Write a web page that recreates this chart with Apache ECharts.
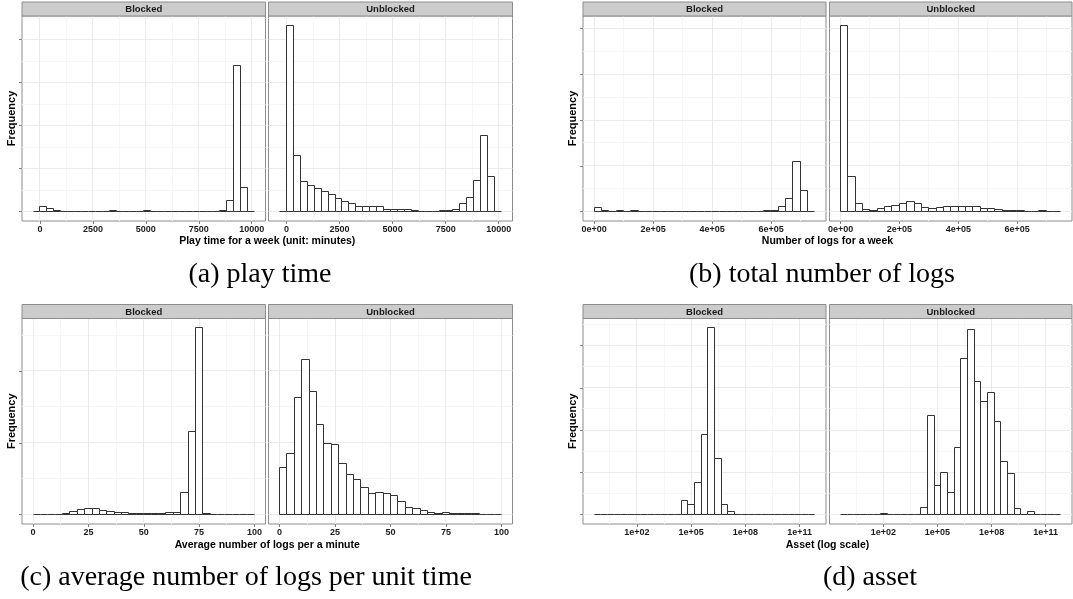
<!DOCTYPE html>
<html><head><meta charset="utf-8">
<script src="https://cdn.jsdelivr.net/npm/echarts@6/dist/echarts.min.js"></script>
<style>html,body{margin:0;padding:0;background:#fff}#c{width:1073px;height:599px}</style>
</head><body><div id="c"></div>
<script>
// ---------------- DATA ----------------
const facetNames = ['Blocked', 'Unblocked'];

// (a) play time for a week (minutes): bins of equal width, first/last bins are empty padding
const playBinStart = -326.67, playBinWidth = 326.67;
const playBlocked   = [0, 12, 8.5, 3, 0, 0, 1.5, 0, 0, 0, 0, 3, 0, 1.5, 0, 0, 3, 0, 0, 0, 0, 0, 0, 0, 0, 0, 1.5, 3, 26, 340, 57, 0];
const playUnblocked = [0, 433, 130, 70, 60, 53, 46, 40, 30, 24, 18, 12, 11, 11, 11, 4.6, 6, 6, 4.6, 3, 1.5, 1.5, 1.5, 3, 3, 6, 18.5, 34, 72, 177, 82, 0];
const playTicks = [0, 2500, 5000, 7500, 10000];
const playTickLabels = ['0', '2500', '5000', '7500', '10000'];
const playMinor = [1250, 3750, 6250, 8750];

// (b) number of logs for a week
const logsBinStart = 0, logsBinWidth = 24953;
const logsBlocked   = [10, 2, 0, 3, 0, 1.5, 0, 0, 0, 1, 1, 1, 0, 1, 1, 0, 0, 0, 0, 0, 0, 0, 1, 1.5, 3.6, 12, 28, 110, 47, 0];
const logsUnblocked = [407, 77, 17, 4.4, 3.6, 8, 11, 13, 17, 22, 17, 10, 8, 10, 11, 12, 12, 12, 11, 8, 6, 4.4, 3.6, 3, 2, 0.7, 0, 1.5, 0.3, 0];
const logsTicks = [0, 200000, 400000, 600000];
const logsTickLabels = ['0e+00', '2e+05', '4e+05', '6e+05'];
const logsMinor = [100000, 300000, 500000, 700000];

// (c) average number of logs per minute
const avgBinStart = 0, avgBinWidth = 3.3333;
const avgBlocked   = [0, 0, 0, 0, 1, 5, 6.5, 9, 8, 6, 4, 3.7, 3.7, 2.3, 2, 2, 1, 1, 3, 3, 31, 116, 260, 1, 0, 0, 0, 0, 0, 0];
const avgUnblocked = [66, 85, 163, 216, 172, 126, 99, 98, 71, 56, 48.5, 38, 29, 30.5, 29, 26, 18, 10.6, 8.8, 5.5, 3.2, 1, 3.2, 1, 1.8, 1.8, 1, 0, 0, 0];
const avgTicks = [0, 25, 50, 75, 100];
const avgTickLabels = ['0', '25', '50', '75', '100'];
const avgMinor = [12.5, 37.5, 62.5, 87.5];

// (d) asset (log10 scale)
const assetBinStart = -0.377, assetBinWidth = 0.3706;
const assetBlocked   = [0, 0, 0, 0, 0, 0, 0, 0, 0, 0, 0, 0, 1.5, 34.5, 25, 76, 190, 442, 133, 23.5, 7, 1.5, 0, 0, 0, 0, 0, 0, 0, 0, 0, 0, 0];
const assetUnblocked = [0, 0, 0, 0, 0, 0, 3, 1, 0, 1, 1, 1, 18, 234, 70, 99, 53, 160, 369, 437, 314, 268, 290, 220, 125.5, 96.5, 14, 0, 7, 0, 0, 0, 0];
const assetTicks = [2, 5, 8, 11];
const assetTickLabels = ['1e+02', '1e+05', '1e+08', '1e+11'];
const assetMinor = [0.5, 3.5, 6.5, 9.5];

// frequency ticks (labels hidden in the original)
const freqTicks = [0, 100, 200, 300, 400];
const freqMinor = [50, 150, 250, 350, 450];

const captions = {
  a: '(a) play time',
  b: '(b) total number of logs',
  c: '(c) average number of logs per unit time',
  d: '(d) asset'
};

const panels = [
  { key: 'a', xTitle: 'Play time for a week (unit: minutes)',
    start: playBinStart, width: playBinWidth, series: [playBlocked, playUnblocked],
    ticks: playTicks, labels: playTickLabels, minor: playMinor },
  { key: 'b', xTitle: 'Number of logs for a week',
    start: logsBinStart, width: logsBinWidth, series: [logsBlocked, logsUnblocked],
    ticks: logsTicks, labels: logsTickLabels, minor: logsMinor },
  { key: 'c', xTitle: 'Average number of logs per a minute',
    start: avgBinStart, width: avgBinWidth, series: [avgBlocked, avgUnblocked],
    ticks: avgTicks, labels: avgTickLabels, minor: avgMinor },
  { key: 'd', xTitle: 'Asset (log scale)',
    start: assetBinStart, width: assetBinWidth, series: [assetBlocked, assetUnblocked],
    ticks: assetTicks, labels: assetTickLabels, minor: assetMinor }
];

// ---------------- LAYOUT ----------------
const rows = [{ top: 16, height: 205, stripTop: 2, titleY: 241.5, capY: 275 },
              { top: 318.5, height: 205.5, stripTop: 304.5, titleY: 545, capY: 578 }];
const cols = [[{ left: 22, width: 243.5 }, { left: 268.5, width: 244 }],
              [{ left: 583, width: 243 }, { left: 829.5, width: 242.5 }]];
const capX = { a: 260, b: 822, c: 246, d: 870 };

const SANS = '"Liberation Sans", Arial, sans-serif';
const SERIF = '"Liberation Serif", "Times New Roman", serif';
const MAJOR = '#ebebeb', MINOR = '#f6f6f6', BORDER = '#8c8c8c', BAR = '#333333';

const grid = [], xAxis = [], yAxis = [], series = [], graphic = [];

function crisp(v) { return Math.round(v - 0.5) + 0.5; }

function renderBar(params, api) {
  const x0 = api.value(0), x1 = api.value(1), c = api.value(2);
  const p0 = api.coord([x0, 0]), p1 = api.coord([x1, c]);
  const l = crisp(p0[0]), r = crisp(p1[0]), b = crisp(p0[1]), t = crisp(p1[1]);
  if (b - t < 1) {
    return { type: 'line', shape: { x1: l, y1: b, x2: r, y2: b }, style: { stroke: BAR, lineWidth: 1 } };
  }
  return { type: 'rect', shape: { x: l, y: t, width: r - l, height: b - t },
           style: { fill: '#ffffff', stroke: BAR, lineWidth: 1 } };
}
function renderGridLine(params, api) {
  const cs = params.coordSys;
  const p = api.coord([api.value(0), api.value(1)]);
  const color = api.value(2) === 1 ? MAJOR : MINOR;
  if (api.value(3) === 0) {
    const x = crisp(p[0]);
    return { type: 'line', shape: { x1: x, y1: cs.y, x2: x, y2: cs.y + cs.height }, style: { stroke: color, lineWidth: 1 } };
  }
  const y = crisp(p[1]);
  return { type: 'line', shape: { x1: cs.x, y1: y, x2: cs.x + cs.width, y2: y }, style: { stroke: color, lineWidth: 1 } };
}

panels.forEach((pn, pi) => {
  const row = rows[Math.floor(pi / 2)];
  const colPair = cols[pi % 2];
  const nb = pn.series[0].length;
  const lo = pn.start, hi = pn.start + nb * pn.width;
  const xMin = lo - 0.05 * (hi - lo), xMax = hi + 0.05 * (hi - lo);
  const yMaxData = Math.max(...pn.series[0], ...pn.series[1]);
  const yMin = -0.05 * yMaxData, yMax = 1.05 * yMaxData;
  const yTicks = freqTicks.filter(v => v <= yMax), yMinor = freqMinor.filter(v => v <= yMax);
  const xMinor = pn.minor.filter(v => v >= xMin && v <= xMax);

  pn.series.forEach((counts, fi) => {
    const idx = grid.length;
    const c = colPair[fi];
    grid.push({ left: c.left, top: row.top, width: c.width, height: row.height,
                show: true, backgroundColor: '#ffffff', borderColor: BORDER, borderWidth: 1, containLabel: false });
    xAxis.push({ type: 'value', gridIndex: idx, min: xMin, max: xMax, position: 'bottom',
      axisLine: { show: false, onZero: false }, splitLine: { show: false },
      axisTick: { show: true, length: 3, inside: false, customValues: pn.ticks, lineStyle: { color: '#7f7f7f', width: 1 } },
      axisLabel: { show: true, customValues: pn.ticks, margin: 4.5, fontSize: 9, fontWeight: 'bold', fontFamily: SANS, color: '#1a1a1a',
                   formatter: v => { const k = pn.ticks.findIndex(t => Math.abs(t - v) < 1e-9 * (1 + Math.abs(t))); return k >= 0 ? pn.labels[k] : ''; } }
    });
    yAxis.push({ type: 'value', gridIndex: idx, min: yMin, max: yMax, position: 'left',
      name: fi === 0 ? 'Frequency' : '', nameLocation: 'middle', nameGap: 5, nameRotate: 90,
      nameTextStyle: { fontSize: 11, fontWeight: 'bold', fontFamily: SANS, color: '#000' },
      axisLine: { show: false, onZero: false }, splitLine: { show: false },
      axisTick: { show: fi === 0, length: 3, inside: false, customValues: yTicks, lineStyle: { color: '#7f7f7f', width: 1 } },
      axisLabel: { show: false, customValues: yTicks }
    });
    const gdata = [];
    pn.ticks.forEach(v => gdata.push([v, 0, 1, 0]));
    xMinor.forEach(v => gdata.push([v, 0, 0, 0]));
    yTicks.forEach(v => gdata.push([0, v, 1, 1]));
    yMinor.forEach(v => gdata.push([0, v, 0, 1]));
    gdata.sort((a, b) => a[2] - b[2]);
    series.push({ type: 'custom', xAxisIndex: idx, yAxisIndex: idx, z: 1, silent: true, animation: false,
                  encode: { x: 0, y: 1 }, data: gdata, renderItem: renderGridLine });
    const bars = counts.map((v, i) => [pn.start + i * pn.width, pn.start + (i + 1) * pn.width, v]);
    series.push({ type: 'custom', xAxisIndex: idx, yAxisIndex: idx, z: 3, silent: true, animation: false,
                  encode: { x: [0, 1], y: 2 }, data: bars, renderItem: renderBar });
    graphic.push({ type: 'rect', silent: true, z: 10,
      shape: { x: c.left, y: row.stripTop, width: c.width, height: row.top - row.stripTop },
      style: { fill: '#cccccc', stroke: BORDER, lineWidth: 1 } });
    graphic.push({ type: 'text', silent: true, z: 11, x: c.left + c.width / 2, y: (row.stripTop + row.top) / 2 + 0.5,
      style: { text: facetNames[fi], font: 'bold 9.5px ' + SANS, fill: '#1a1a1a', align: 'center', verticalAlign: 'middle' } });
  });
  const xl = colPair[0].left, xr = colPair[1].left + colPair[1].width;
  graphic.push({ type: 'text', silent: true, x: (xl + xr) / 2, y: row.titleY,
    style: { text: pn.xTitle, font: 'bold 10.5px ' + SANS, fill: '#000', align: 'center', verticalAlign: 'middle' } });
  graphic.push({ type: 'text', silent: true, x: capX[pn.key], y: row.capY,
    style: { text: captions[pn.key], font: '28px ' + SERIF, fill: '#000', align: 'center', verticalAlign: 'middle' } });
});

const chart = echarts.init(document.getElementById('c'), null, { renderer: 'canvas' });
chart.setOption({ animation: false, backgroundColor: '#ffffff', grid, xAxis, yAxis, series, graphic });
</script></body></html>
